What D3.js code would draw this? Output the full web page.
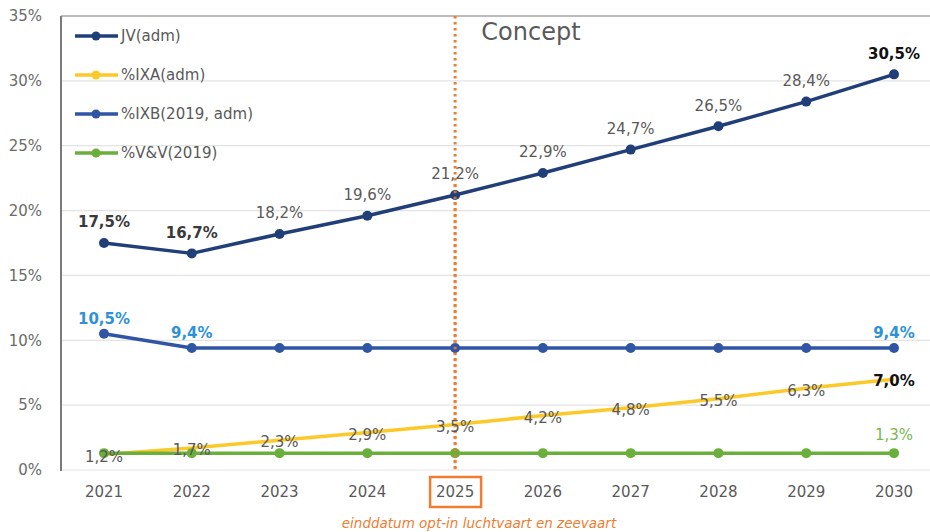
<!DOCTYPE html>
<html>
<head>
<meta charset="utf-8">
<script src="https://cdn.jsdelivr.net/npm/d3@7/dist/d3.min.js"></script>
<style>
  body { margin: 0; background: #fff; }
  svg { display: block; font-family: "DejaVu Sans", sans-serif; }
</style>
</head>
<body>
<div id="chart"></div>
<script>
// data
const years = [2021, 2022, 2023, 2024, 2025, 2026, 2027, 2028, 2029, 2030];
const jv = [17.5, 16.7, 18.2, 19.6, 21.2, 22.9, 24.7, 26.5, 28.4, 30.5];
const ixa = [1.2, 1.7, 2.3, 2.9, 3.5, 4.2, 4.8, 5.5, 6.3, 7.0];
const ixb = [10.5, 9.4, 9.4, 9.4, 9.4, 9.4, 9.4, 9.4, 9.4, 9.4];
const vv = [1.3, 1.3, 1.3, 1.3, 1.3, 1.3, 1.3, 1.3, 1.3, 1.3];
const yTicks = [0, 5, 10, 15, 20, 25, 30, 35];
const seriesNames = ["JV(adm)", "%IXA(adm)", "%IXB(2019, adm)", "%V&V(2019)"];
const markerYear = 2025;

const fmt = v => d3.format(".1f")(v).replace(".", ",") + "%";

const width = 930, height = 532;
const svg = d3.select("#chart").append("svg")
    .attr("width", width)
    .attr("height", height);

const x = d3.scalePoint().domain(years).range([104, 894]);
const y = d3.scaleLinear().domain([0, 35]).range([470, 16]);

// gridlines
svg.append("g")
    .selectAll("line")
    .data(yTicks)
    .enter().append("line")
    .attr("x1", 61).attr("x2", width)
    .attr("y1", d => y(d)).attr("y2", d => y(d))
    .attr("stroke", d => d === 35 ? "#a6a6a6" : "#e3e3e3")
    .attr("stroke-width", d => d === 35 ? 1.5 : 1.2);

// y axis line + labels
svg.append("line")
    .attr("x1", 61).attr("x2", 61)
    .attr("y1", y(35)).attr("y2", y(0) + 1)
    .attr("stroke", "#7a7a7a").attr("stroke-width", 2);
svg.append("g")
    .selectAll("text")
    .data(yTicks)
    .enter().append("text")
    .attr("x", 42).attr("y", d => y(d))
    .attr("dy", "0.35em")
    .attr("text-anchor", "end")
    .attr("fill", "#6b6b6b")
    .style("font-size", "15px")
    .text(d => d + "%");

// x labels
svg.append("g")
    .selectAll("text")
    .data(years)
    .enter().append("text")
    .attr("x", d => x(d)).attr("y", 492)
    .attr("dy", "0.35em")
    .attr("text-anchor", "middle")
    .attr("fill", "#595959")
    .style("font-size", "15px")
    .text(d => d);

// orange marker for 2025
svg.append("line")
    .attr("x1", x(markerYear)).attr("x2", x(markerYear))
    .attr("y1", y(35)).attr("y2", y(0))
    .attr("stroke", "#ED7D31").attr("stroke-width", 3)
    .attr("stroke-dasharray", "2.5,3.5");
svg.append("rect")
    .attr("x", x(markerYear) - 25).attr("y", 477)
    .attr("width", 51).attr("height", 30)
    .attr("fill", "none")
    .attr("stroke", "#ED7D31").attr("stroke-width", 2.5);
svg.append("text")
    .attr("x", 479).attr("y", 528)
    .attr("text-anchor", "middle")
    .attr("fill", "#ED7D31")
    .style("font-size", "13.5px")
    .style("font-style", "italic")
    .text("einddatum opt-in luchtvaart en zeevaart");

svg.append("text")
    .attr("x", 531).attr("y", 32)
    .attr("dy", "0.35em")
    .attr("text-anchor", "middle")
    .attr("fill", "#595959")
    .style("font-size", "24px")
    .text("Concept");

const line = d3.line().x((d, i) => x(years[i])).y(d => y(d));

const series = [
    { name: seriesNames[0], values: jv, color: "#203f78", dots: true },
    { name: seriesNames[1], values: ixa, color: "#fcc92a", dots: false },
    { name: seriesNames[2], values: ixb, color: "#2f55a4", dots: true },
    { name: seriesNames[3], values: vv, color: "#6aae3c", dots: true }
];

// draw in order so yellow sits under green like in the picture
[series[1], series[3], series[2], series[0]].forEach(s => {
    svg.append("path")
        .datum(s.values)
        .attr("d", line)
        .attr("fill", "none")
        .attr("stroke", s.color)
        .attr("stroke-width", 3.5)
        .attr("stroke-linejoin", "round");
    if (s.dots) {
        svg.append("g")
            .selectAll("circle")
            .data(s.values)
            .enter().append("circle")
            .attr("cx", (d, i) => x(years[i]))
            .attr("cy", d => y(d))
            .attr("r", 5)
            .attr("fill", s.color);
    }
});

// redraw the dotted marker line on top where it crosses
svg.append("line")
    .attr("x1", x(markerYear)).attr("x2", x(markerYear))
    .attr("y1", y(22)).attr("y2", y(0))
    .attr("stroke", "#ED7D31").attr("stroke-width", 3)
    .attr("stroke-dasharray", "2.5,3.5")
    .attr("opacity", 0.85);

// data labels
const lab = svg.append("g").style("font-size", "15px").attr("text-anchor", "middle");

jv.forEach((v, i) => {
    const strong = i < 2 || i === jv.length - 1;
    lab.append("text")
        .attr("x", x(years[i])).attr("y", y(v) - 21)
        .attr("dy", "0.35em")
        .attr("fill", i === jv.length - 1 ? "#111" : (strong ? "#3a3a3a" : "#595959"))
        .style("font-weight", strong ? "bold" : "normal")
        .text(fmt(v));
});

ixa.forEach((v, i) => {
    const last = i === ixa.length - 1;
    lab.append("text")
        .attr("x", x(years[i])).attr("y", y(v) + 2)
        .attr("dy", "0.35em")
        .attr("fill", last ? "#111" : "#595959")
        .style("font-weight", last ? "bold" : "normal")
        .text(fmt(v));
});

[0, 1, ixb.length - 1].forEach(i => {
    lab.append("text")
        .attr("x", x(years[i])).attr("y", y(ixb[i]) - 15)
        .attr("dy", "0.35em")
        .attr("fill", "#2e92d6")
        .style("font-weight", "600")
        .text(fmt(ixb[i]));
});

lab.append("text")
    .attr("x", x(years[vv.length - 1])).attr("y", y(vv[vv.length - 1]) - 18)
    .attr("dy", "0.35em")
    .attr("fill", "#78b84f")
    .text(fmt(vv[vv.length - 1]));

// legend
const legend = svg.append("g");
series.forEach((s, i) => {
    const ly = 36 + i * 39;
    legend.append("line")
        .attr("x1", 75).attr("x2", 118)
        .attr("y1", ly).attr("y2", ly)
        .attr("stroke", s.color).attr("stroke-width", 3.5);
    legend.append("circle")
        .attr("cx", 96).attr("cy", ly).attr("r", 4.5)
        .attr("fill", s.color);
    legend.append("text")
        .attr("x", 121).attr("y", ly)
        .attr("dy", "0.35em")
        .attr("fill", "#595959")
        .style("font-size", "15px")
        .text(s.name);
});
</script>
</body>
</html>
